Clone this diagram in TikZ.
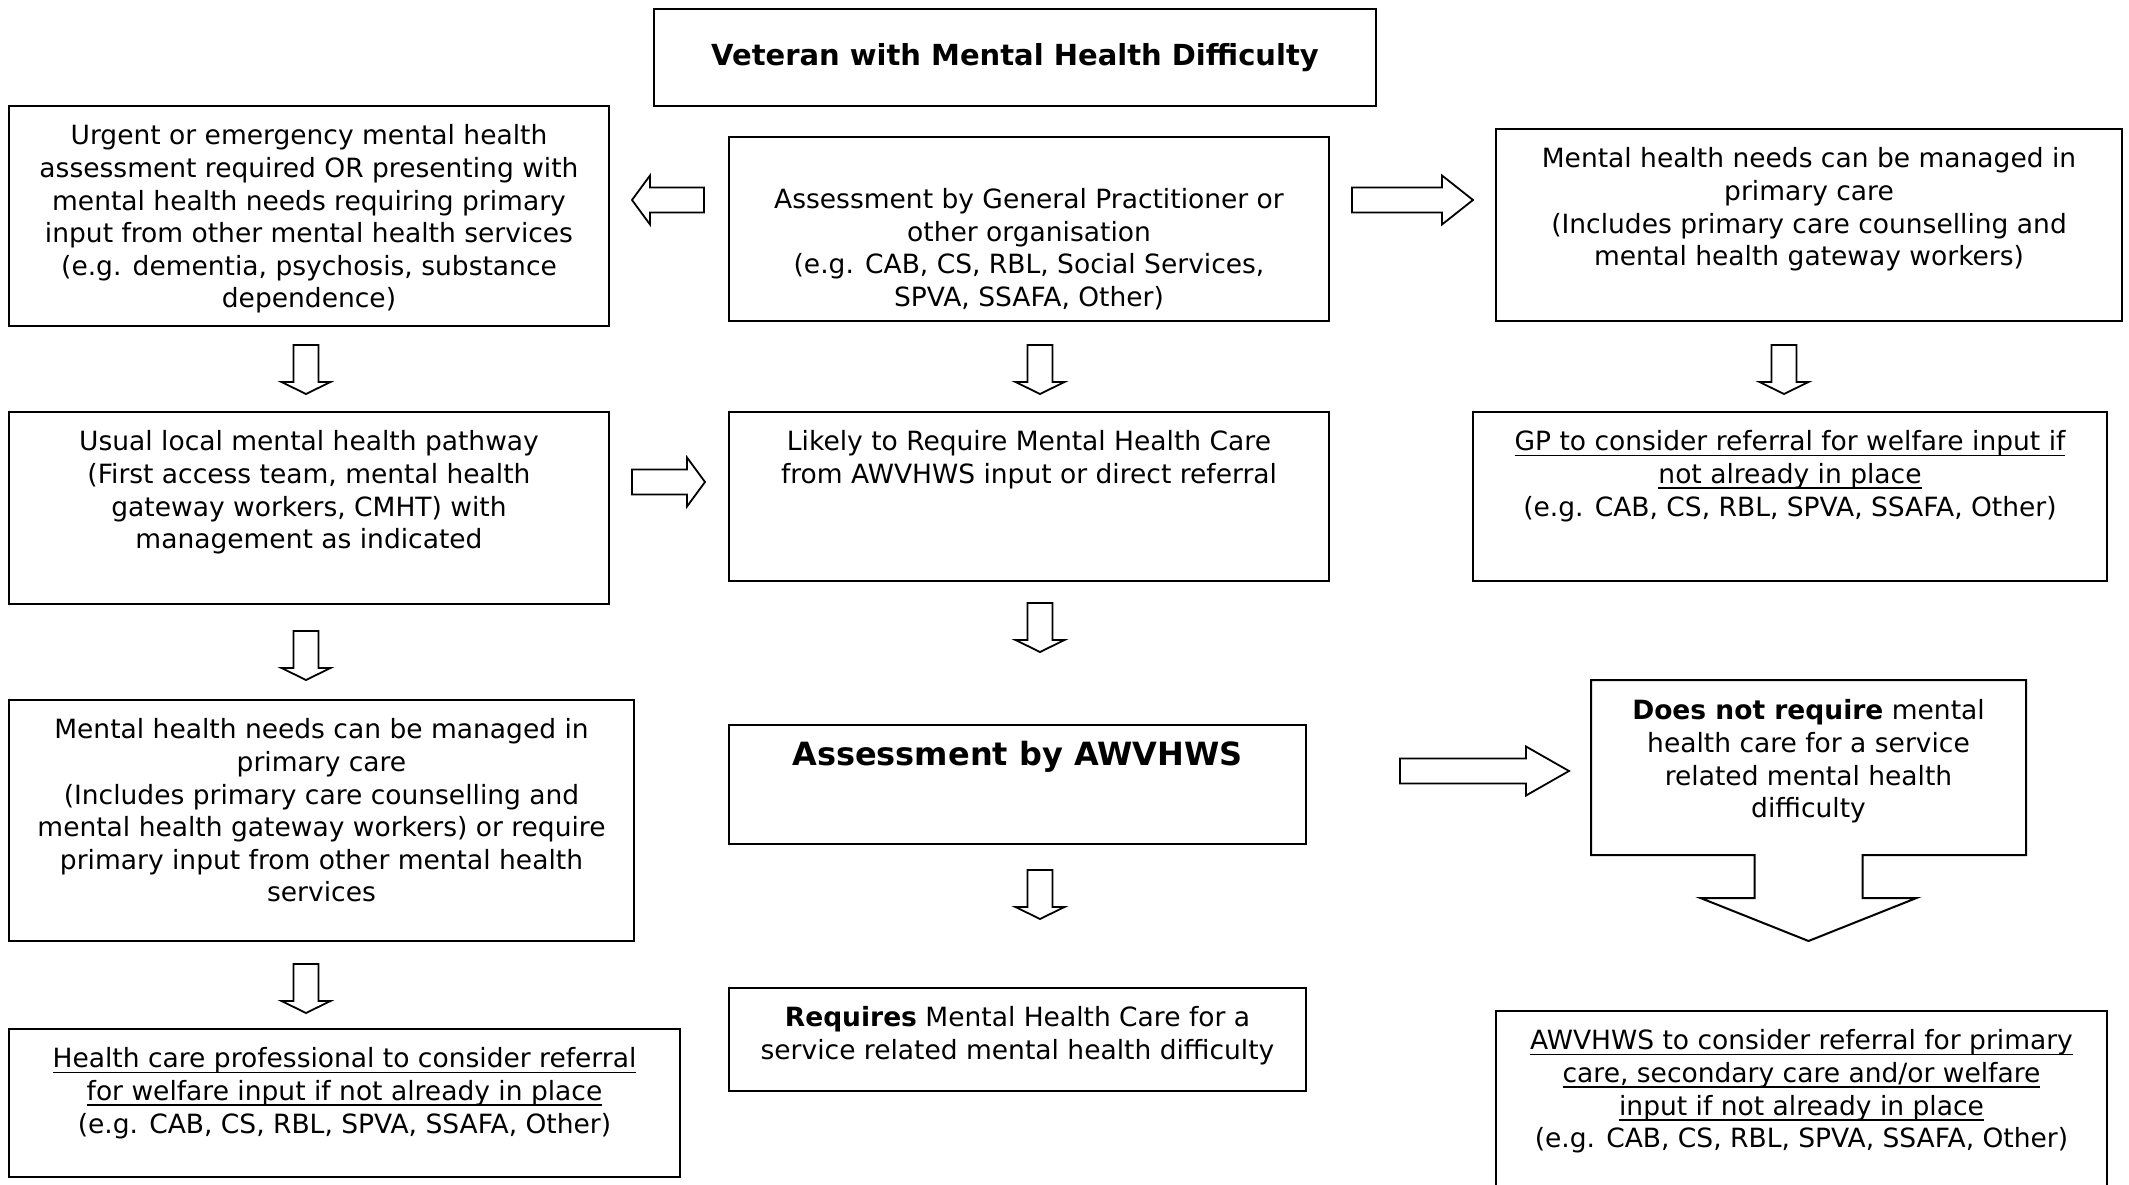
\documentclass[tikz,border=0pt]{standalone}
\usepackage{fontspec}
\setmainfont{DejaVu Sans}
\usetikzlibrary{calc}

\newcommand{\uln}[1]{\leavevmode\setbox0\hbox{#1}\rlap{\rule[-5.5pt]{\wd0}{1.8pt}}\box0}

\begin{document}
\begin{tikzpicture}[x=1pt, y=-1pt]
\tikzset{
  box/.style 2 args={draw, line width=2pt, anchor=north west, inner xsep=0pt, inner ysep=16pt,
        execute at begin node={\begin{minipage}[c][\dimexpr #2pt-32pt\relax][t]{#1pt}%
                               \fontsize{26.5}{32.6}\selectfont\centering\strut},
        execute at end node={\end{minipage}}},
  title/.style={draw, line width=2pt, anchor=north west, inner sep=0pt,
        minimum width=722pt, minimum height=97pt, font=\fontsize{29}{35}\selectfont\bfseries},
  blockline/.style={line width=1.8pt, line join=miter},
  pics/downarrow/.style={code={\draw[blockline] (-12.5,0) -- (12.5,0) -- (12.5,37) -- (24.5,37)
        -- (0,49) -- (-24.5,37) -- (-12.5,37) -- cycle;}},
  pics/rightarrow/.style args={#1/#2}{code={\draw[blockline] (0,-12.5) -- (#1-#2,-12.5)
        -- (#1-#2,-24.5) -- (#1,0) -- (#1-#2,24.5) -- (#1-#2,12.5) -- (0,12.5) -- cycle;}}
}

\useasboundingbox (0,0) rectangle (2129,1185);

\node[title] (vet) at (653,8) {Veteran with Mental Health Difficulty};

\node[box={600}{220}] (urgent)  at (8,105)    {Urgent or emergency mental health\\ assessment required OR presenting with\\ mental health needs requiring primary\\ input from other mental health services\\ (e.g. dementia, psychosis, substance\\ dependence)};
\node[box={600}{184}] (gp)      at (728,136)  {\\ Assessment by General Practitioner or\\ other organisation\\ (e.g. CAB, CS, RBL, Social Services,\\ SPVA, SSAFA, Other)};
\node[box={626}{192}] (primary) at (1495,128) {Mental health needs can be managed in\\ primary care\\ (Includes primary care counselling and\\ mental health gateway workers)};

\node[box={600}{192}] (usual)   at (8,411)    {Usual local mental health pathway\\ (First access team, mental health\\ gateway workers, CMHT) with\\ management as indicated};
\node[box={600}{169}] (likely)  at (728,411)  {Likely to Require Mental Health Care\\ from AWVHWS input or direct referral};
\node[box={634}{169}] (gpref)   at (1472,411) {\uln{GP to consider referral for welfare input if}\\ \uln{not already in place}\\ (e.g. CAB, CS, RBL, SPVA, SSAFA, Other)};

\node[box={625}{241}] (managed) at (8,699)    {Mental health needs can be managed in\\ primary care\\ (Includes primary care counselling and\\ mental health gateway workers) or require\\ primary input from other mental health\\ services};
\node[box={577}{119}] (awv)     at (728,724)  {{\fontsize{32}{38}\selectfont\bfseries Assessment by AWVHWS}};
\node[box={433}{173}, draw=none] (notreq) at (1591,680) {\textbf{Does not require} mental\\ health care for a service\\ related mental health\\ difficulty};

\node[box={671}{148}] (hcpref)  at (8,1028)   {\uln{Health care professional to consider referral}\\ \uln{for welfare input if not already in place}\\ (e.g. CAB, CS, RBL, SPVA, SSAFA, Other)};
\node[box={577}{103}] (req)     at (728,987)  {\textbf{Requires} Mental Health Care for a\\ service related mental health difficulty};
\node[box={611}{200}] (awvref)  at (1495,1010) {\uln{AWVHWS to consider referral for primary}\\ \uln{care, secondary care and/or welfare}\\ \uln{input if not already in place}\\ (e.g. CAB, CS, RBL, SPVA, SSAFA, Other)};

\draw[line width=2pt] (notreq.south west) -- (notreq.north west) -- (notreq.north east) -- (notreq.south east)
  -- ($(notreq.south)+(54,0)$) -- ++(0,43) -- ++(54,0) -- ++(-108,43) -- ++(-108,-43) -- ++(54,0) -- ++(0,-43) -- cycle;

\pic[rotate=180] (aurgent) at (704,200) {rightarrow=72/18};
\pic (aprimary) at (1352,200) {rightarrow=121/31};
\pic (alikely)  at (632,482)  {rightarrow=73/18};
\pic (anotreq)  at (1400,771) {rightarrow=169/43};

\pic (d1) at (306,345)  {downarrow};
\pic (d2) at (1040,345) {downarrow};
\pic (d3) at (1784,345) {downarrow};
\pic (d4) at (306,631)  {downarrow};
\pic (d5) at (1040,603) {downarrow};
\pic (d6) at (306,964)  {downarrow};
\pic (d7) at (1040,870) {downarrow};

\end{tikzpicture}
\end{document}
